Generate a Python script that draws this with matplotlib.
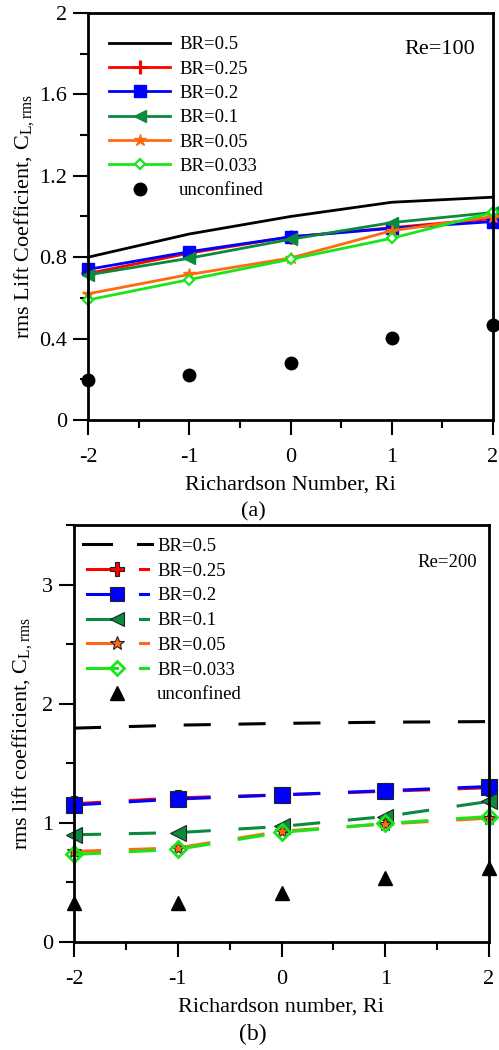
import matplotlib
matplotlib.use("Agg")
import matplotlib.pyplot as plt
from matplotlib.lines import Line2D
from matplotlib.legend_handler import HandlerBase
from matplotlib.ticker import MultipleLocator, FuncFormatter

plt.rcParams['font.family'] = ['Liberation Serif', 'DejaVu Serif']
plt.rcParams['mathtext.fontset'] = 'custom'
plt.rcParams['mathtext.rm'] = 'Liberation Serif'
plt.rcParams['lines.scale_dashes'] = False
plt.rcParams['axes.unicode_minus'] = False

ri = [-2, -1, 0, 1, 2]
labels = ['BR=0.5', 'BR=0.25', 'BR=0.2', 'BR=0.1', 'BR=0.05', 'BR=0.033', 'unconfined']

# Re = 100
re100_br050 = [0.80, 0.914, 1.00, 1.07, 1.095]
re100_br025 = [0.72, 0.82, 0.90, 0.945, 0.99]
re100_br020 = [0.74, 0.827, 0.90, 0.942, 0.975]
re100_br010 = [0.713, 0.795, 0.888, 0.97, 1.02]
re100_br005 = [0.62, 0.715, 0.796, 0.93, 1.00]
re100_br0033 = [0.59, 0.69, 0.79, 0.893, 1.02]
re100_unconf = [0.197, 0.22, 0.28, 0.405, 0.467]

# Re = 200
re200_br050 = [1.795, 1.82, 1.835, 1.845, 1.85]
re200_br025 = [1.16, 1.21, 1.235, 1.265, 1.295]
re200_br020 = [1.15, 1.20, 1.235, 1.27, 1.305]
re200_br010 = [0.90, 0.918, 0.97, 1.053, 1.18]
re200_br005 = [0.76, 0.79, 0.93, 0.99, 1.04]
re200_br0033 = [0.735, 0.778, 0.92, 0.995, 1.053]
re200_unconf = [0.33, 0.33, 0.41, 0.535, 0.62]

RED = '#ff0000'
BLUE = '#0000ff'
GREEN = '#0a8a3c'
ORANGE = '#ff6a10'
LIME = '#19e619'


class StubAndDashHandler(HandlerBase):
    # solid stub ending in the marker, then one short dash of the series
    def create_artists(self, legend, orig, xdescent, ydescent, width, height,
                       fontsize, trans):
        y = height / 2 - ydescent
        x0 = -xdescent
        col = orig.get_color()
        lw = orig.get_linewidth()
        mk = orig.get_marker()
        has_line = orig.get_linestyle() not in ('None', '', ' ')
        arts = []
        if mk in (None, 'None', '', ' '):
            arts.append(Line2D([x0, x0 + 0.41 * width], [y, y], color=col, lw=lw))
            arts.append(Line2D([x0 + 0.80 * width, x0 + width], [y, y], color=col, lw=lw))
        else:
            xm = x0 + 0.49 * width
            if has_line:
                arts.append(Line2D([x0 + 0.05 * width, xm], [y, y], color=col, lw=lw))
                arts.append(Line2D([x0 + 0.83 * width, x0 + 0.94 * width], [y, y],
                                   color=col, lw=lw))
            arts.append(Line2D([xm], [y], ls='none', marker=mk,
                               ms=orig.get_markersize(),
                               mfc=orig.get_markerfacecolor(),
                               mec=orig.get_markeredgecolor(),
                               mew=orig.get_markeredgewidth()))
        for a in arts:
            a.set_transform(trans)
        return arts


def style_axes(ax, ymax, ymajor, yminor):
    ax.set_xlim(-2, 2)
    ax.set_ylim(0, ymax)
    ax.xaxis.set_major_locator(MultipleLocator(1))
    ax.xaxis.set_minor_locator(MultipleLocator(0.5))
    ax.yaxis.set_major_locator(MultipleLocator(ymajor))
    ax.yaxis.set_minor_locator(MultipleLocator(yminor))
    ax.xaxis.set_major_formatter(FuncFormatter(lambda v, p: '%g' % v))
    ax.yaxis.set_major_formatter(FuncFormatter(lambda v, p: '%g' % round(v, 3)))
    ax.tick_params(which='both', direction='out', top=False, right=False,
                   width=1.5, labelsize=16)
    ax.tick_params(which='major', length=10.5)
    ax.tick_params(which='minor', length=5.5)
    ax.tick_params(axis='x', which='major', pad=9.5)
    ax.tick_params(axis='y', which='major', pad=4.6)
    for s in ax.spines.values():
        s.set_linewidth(2)


fig = plt.figure(figsize=(4.99, 10.5), dpi=100)

# ---- (a) Re = 100 ----
ax1 = fig.add_axes([88 / 499, 1 - 420 / 1050, 405 / 499, 407 / 1050])
kw = dict(lw=2, clip_on=False)
h = []
h += ax1.plot(ri, re100_br050, color='black', **kw)
h += ax1.plot(ri, re100_br025, color=RED, marker='+', ms=10, mew=2.2, **kw)
h += ax1.plot(ri, re100_br020, color=BLUE, marker='s', ms=8.5, **kw)
h += ax1.plot(ri, re100_br010, color=GREEN, marker='<', ms=9, **kw)
h += ax1.plot(ri, re100_br005, color=ORANGE, marker='*', ms=9, **kw)
h += ax1.plot(ri, re100_br0033, color=LIME, marker='D', ms=5.5, mfc='white',
              mec=LIME, mew=1.6, **kw)
h += ax1.plot(ri, re100_unconf, color='black', marker='o', ms=9, ls='none',
              clip_on=False, zorder=3)
style_axes(ax1, 2, 0.4, 0.2)
ax1.set_xlabel('Richardson Number, Ri', fontsize=16, labelpad=6.3)
ax1.set_ylabel(r'rms Lift Coefficient, C$_{\mathrm{L,rms}}$', fontsize=16)
ax1.yaxis.set_label_coords(-0.127, 0.5)
ax1.legend(h, labels, loc='upper left', bbox_to_anchor=(0.052, 0.943),
           frameon=False, fontsize=13.5, handlelength=3.25, handletextpad=0.48,
           labelspacing=0.385, borderpad=0, borderaxespad=0, numpoints=1)
ax1.text(0.956, 0.910, 'Re=100', transform=ax1.transAxes, ha='right',
         va='center', fontsize=16)
fig.text(253 / 499, 1 - 512 / 1050, '(a)', ha='center', va='center', fontsize=16)

# ---- (b) Re = 200 ----
ax2 = fig.add_axes([74 / 499, 1 - 942 / 1050, 415 / 499, 417 / 1050])
dash = (0, (19.5, 20))
kw = dict(lw=2.2, ls=dash, clip_on=False)
edge = dict(mec='#222222', mew=0.8)
g = []
g += ax2.plot(ri, re200_br050, color='black', **kw)
g += ax2.plot(ri, re200_br025, color=RED, marker='P', ms=11, **edge, **kw)
g += ax2.plot(ri, re200_br020, color=BLUE, marker='s', ms=11, **edge, **kw)
g += ax2.plot(ri, re200_br010, color=GREEN, marker='<', ms=11, **edge, **kw)
g += ax2.plot(ri, re200_br005, color=ORANGE, marker='*', ms=11, **edge, **kw)
g += ax2.plot(ri, re200_br0033, color=LIME, marker='D', ms=8, mfc='none',
              mec=LIME, mew=2, **kw)
g += ax2.plot(ri, re200_unconf, color='black', marker='^', ms=10, ls='none',
              clip_on=False, zorder=3)
style_axes(ax2, 3.5, 1, 0.5)
ax2.set_xlabel('Richardson number, Ri', fontsize=16, labelpad=6.3)
ax2.set_ylabel(r'rms lift coefficient, C$_{\mathrm{L,rms}}$', fontsize=16)
ax2.yaxis.set_label_coords(-0.094, 0.5)

# legend samples: solid stub with marker plus a short dash
leg_handles = []
for line in g:
    ls = 'None' if line is g[-1] else '-'
    s = Line2D([], [], color=line.get_color(), lw=line.get_linewidth(),
               ls=ls, marker=line.get_marker(), ms=line.get_markersize() * 0.95,
               mfc=line.get_markerfacecolor(), mec=line.get_markeredgecolor(),
               mew=line.get_markeredgewidth())
    leg_handles.append(s)
ax2.legend(leg_handles, labels, loc='upper left', bbox_to_anchor=(0.022, 0.969),
           frameon=False, fontsize=13.5, handlelength=3.68, handletextpad=0.27,
           labelspacing=0.405, borderpad=0, borderaxespad=0,
           handler_map={Line2D: StubAndDashHandler()})
ax2.text(0.971, 0.909, 'Re=200', transform=ax2.transAxes, ha='right',
         va='center', fontsize=13.5)
fig.text(253 / 499, 1 - 1034 / 1050, '(b)', ha='center', va='center', fontsize=17)

fig.savefig('out.png', dpi=100)
